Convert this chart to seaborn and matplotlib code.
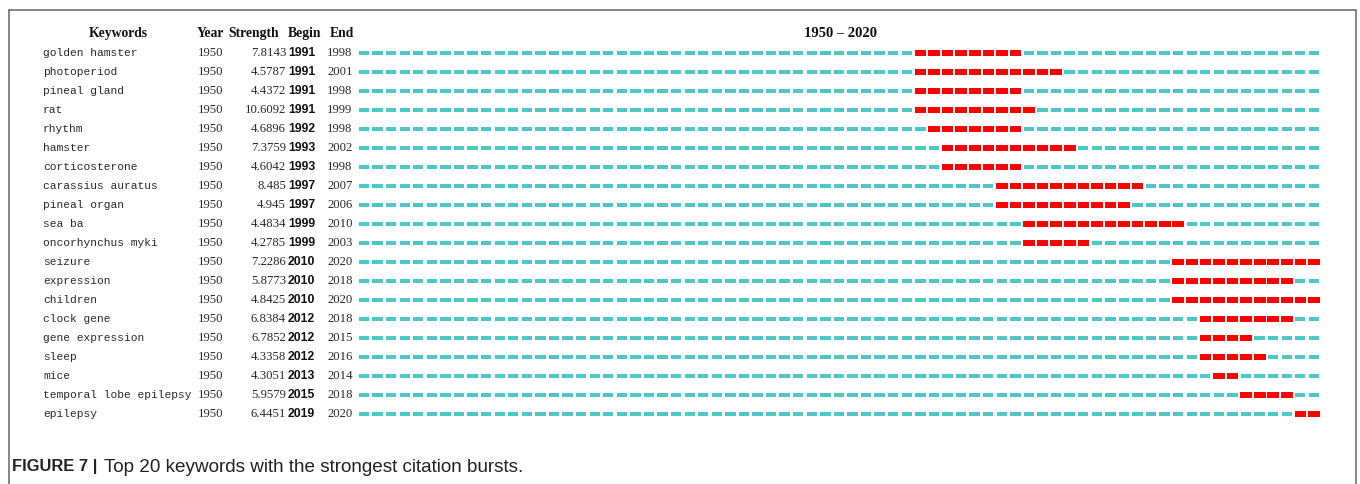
import matplotlib
matplotlib.use("Agg")
import matplotlib.pyplot as plt
from matplotlib import transforms
from matplotlib.lines import Line2D
import seaborn as sns
import pandas as pd

# ---------------- data ----------------
keywords = ["golden hamster", "photoperiod", "pineal gland", "rat", "rhythm",
            "hamster", "corticosterone", "carassius auratus", "pineal organ",
            "sea ba", "oncorhynchus myki", "seizure", "expression", "children",
            "clock gene", "gene expression", "sleep", "mice",
            "temporal lobe epilepsy", "epilepsy"]
first_year = [1950] * 20
strength = ["7.8143", "4.5787", "4.4372", "10.6092", "4.6896", "7.3759", "4.6042",
            "8.485", "4.945", "4.4834", "4.2785", "7.2286", "5.8773", "4.8425",
            "6.8384", "6.7852", "4.3358", "4.3051", "5.9579", "6.4451"]
begin = [1991, 1991, 1991, 1991, 1992, 1993, 1993, 1997, 1997, 1999, 1999,
         2010, 2010, 2010, 2012, 2012, 2012, 2013, 2015, 2019]
end = [1998, 2001, 1998, 1999, 1998, 2002, 1998, 2007, 2006, 2010, 2003,
       2020, 2018, 2020, 2018, 2015, 2016, 2014, 2018, 2020]
span_start, span_end = 1950, 2020
headers = ["Keywords", "Year", "Strength", "Begin", "End"]
range_label = "1950 \u2013 2020"
caption_bold = "FIGURE 7 |"
caption_text = "Top 20 keywords with the strongest citation bursts."

# long table of year cells
rows = []
for i, kw in enumerate(keywords):
    for yr in range(span_start, span_end + 1):
        rows.append({"row": i, "year": yr,
                     "burst": begin[i] <= yr <= end[i]})
df = pd.DataFrame(rows)

# ---------------- figure ----------------
sns.set_theme(style="white")
plt.rcParams["font.family"] = ["DejaVu Sans"]
W, H = 1360, 484
fig = plt.figure(figsize=(W / 100, H / 100), dpi=100)

bar_left, bar_right = 358, 1321.5
top_px, bot_px = 43.5, 423.5
ax = fig.add_axes([bar_left / W, 1 - bot_px / H,
                   (bar_right - bar_left) / W, (bot_px - top_px) / H])
ax.set_xlim(span_start, span_end + 1)
ax.set_ylim(len(keywords) - 0.5, -0.5)
ax.axis("off")

cyan = "#4CC8C8"
red = "#FF0000"
normal = df[~df["burst"]]
burst = df[df["burst"]]
ax.barh(normal["row"], 0.76, left=normal["year"] + 0.06, height=0.18,
        color=cyan, edgecolor="none")
ax.barh(burst["row"], 0.86, left=burst["year"] + 0.02, height=0.33,
        color=red, edgecolor="none")

# ---------------- table text ----------------
tr = transforms.blended_transform_factory(fig.transFigure, ax.transData)
mono = "Liberation Mono"
serif = "Liberation Serif"
txt = "#2a2a2a"
for i in range(len(keywords)):
    ax.text(43 / W, i, keywords[i], transform=tr, ha="left", va="center",
            fontsize=8.1, family=mono, color=txt, clip_on=False)
    ax.text(198 / W, i, str(first_year[i]), transform=tr, ha="left", va="center",
            fontsize=9.2, family=serif, color=txt, clip_on=False)
    ax.text(286 / W, i, strength[i], transform=tr, ha="right", va="center",
            fontsize=9.2, family=serif, color=txt, clip_on=False)
    ax.text(288 / W, i, str(begin[i]), transform=tr, ha="left", va="center",
            fontsize=8.8, family="Liberation Sans", fontweight="bold",
            color="#111111", clip_on=False)
    ax.text(327 / W, i, str(end[i]), transform=tr, ha="left", va="center",
            fontsize=9.2, family=serif, color=txt, clip_on=False)

hy = -1.05
hdr_kw = dict(transform=tr, va="center", family=serif,
              fontweight="bold", color="#111111", clip_on=False)
ax.text(118 / W, hy, headers[0], ha="center", fontsize=9.8, **hdr_kw)
ax.text(197 / W, hy, headers[1], ha="left", fontsize=9.8, **hdr_kw)
ax.text(228 / W, hy, headers[2], ha="left", fontsize=9.8, **hdr_kw)
ax.text(288 / W, hy, headers[3], ha="left", fontsize=9.8, **hdr_kw)
ax.text(330 / W, hy, headers[4], ha="left", fontsize=9.8, **hdr_kw)
ax.text(840 / W, hy, range_label, ha="center", fontsize=10.5, **hdr_kw)

# ---------------- frame ----------------
fc = "#666666"
fig.add_artist(Line2D([8.5 / W, 8.5 / W], [0, 1 - 10 / H], transform=fig.transFigure,
                      color=fc, lw=1.1))
fig.add_artist(Line2D([8.5 / W, 1356 / W], [1 - 10 / H, 1 - 10 / H],
                      transform=fig.transFigure, color=fc, lw=1.1))
fig.add_artist(Line2D([1356 / W, 1356 / W], [0, 1 - 10 / H], transform=fig.transFigure,
                      color=fc, lw=1.1))

# ---------------- caption ----------------
cy = 1 - 467 / H
fig.text(12 / W, cy, caption_bold, ha="left", va="center", fontsize=11.9,
         family="Liberation Sans", fontweight="bold", color="#222222")
fig.text(104 / W, cy, caption_text, ha="left", va="center", fontsize=13.6,
         family="Liberation Sans", color="#222222")

fig.savefig("out.png", dpi=100)
